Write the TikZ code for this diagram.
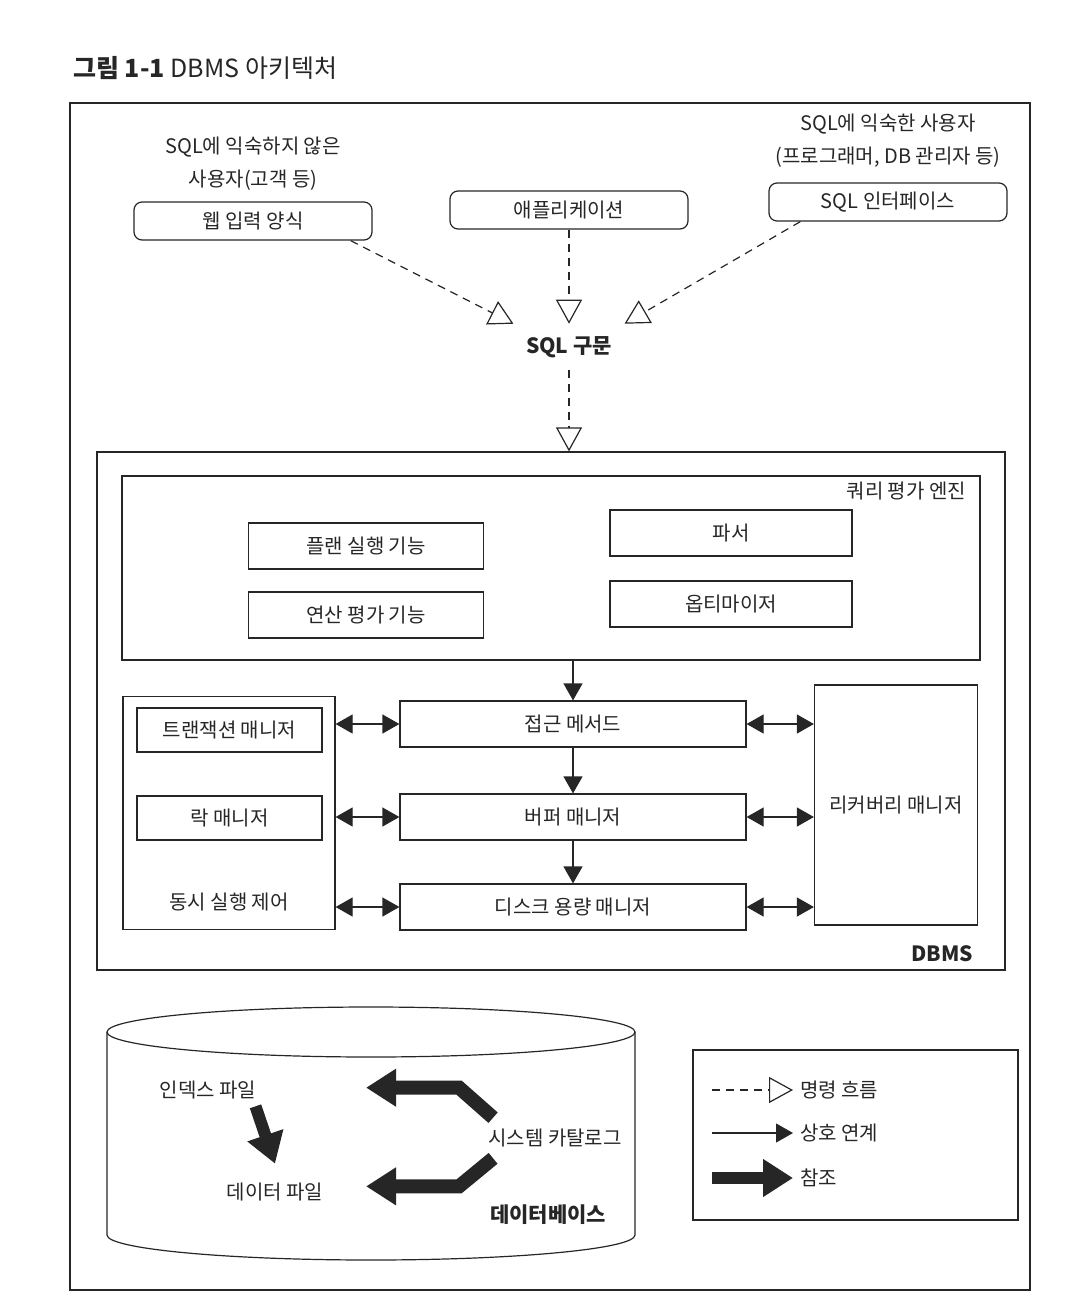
\documentclass[tikz,border=0pt]{standalone}
\usepackage{fontspec}
\setmainfont{Noto Sans CJK KR}
\usetikzlibrary{arrows.meta,positioning,calc}

\begin{document}
\begin{tikzpicture}[
    x=0.5pt, y=-0.5pt,
    line width=0.6pt, color=black!85,
    every node/.style={font=\fontsize{10}{16.5}\selectfont},
    box/.style={rectangle,draw,align=center,minimum height=23pt},
    ubox/.style={box,rounded corners=4pt,minimum width=119pt,minimum height=19pt},
    note/.style={align=center},
    flow/.style={dash pattern=on 4pt off 3pt,-{Triangle[open,length=12pt,width=13pt]}},
    link/.style={{Triangle[length=8.5pt,width=9.5pt]}-{Triangle[length=8.5pt,width=9.5pt]}},
    ref/.style={line width=7pt,-{Triangle[length=15pt,width=18pt]}},
    >={Triangle[length=8.5pt,width=9.5pt]}]
    \useasboundingbox (0,0) rectangle (1089,1307);
    \node[anchor=west,font=\fontsize{12.5}{15}\selectfont] (title) at (66,68) {\textbf{그림 1-1} DBMS 아키텍처};
    \draw[line width=0.8pt] (70,103) rectangle (1030,1290);
    % 사용자와 입력 경로
    \node[ubox] (web) at (253,221) {웹 입력 양식};
    \node[ubox] (app) at (569,210) {애플리케이션};
    \node[ubox] (sqli) at (888,202) {SQL 인터페이스};
    \node[note,above=2pt of web] (user1) {SQL에 익숙하지 않은\\사용자(고객 등)};
    \node[note,above=4pt of sqli] (user2) {SQL에 익숙한 사용자\\(프로그래머, DB 관리자 등)};
    \node[font=\fontsize{10.5}{13}\selectfont\bfseries,inner sep=6pt] (sql) at (569,347) {SQL 구문};
    \draw[flow] ($(web.south east)+(-22,0)$) -- (sql.north west);
    \draw[flow] (app) -- (sql);
    \draw[flow] ($(sqli.south west)+(32,0)$) -- (sql.north east);
    % DBMS
    \node[box,minimum width=454pt,minimum height=259pt] (dbms) at (551,711) {};
    \node[anchor=south east,inner sep=0pt,font=\fontsize{10.5}{13}\selectfont\bfseries] (dbmsl) at ($(dbms.south east)+(-32,-8)$) {DBMS};
    \draw[flow] (sql.south) -- (sql.south |- dbms.north);
    \node[box,minimum width=429pt,minimum height=92pt] (qe) at (551,568) {};
    \node[anchor=north east,inner sep=0pt] (qel) at ($(qe.north east)+(-14,6)$) {쿼리 평가 엔진};
    \node[box,minimum width=117.5pt] (plan) at (366,546) {플랜 실행 기능};
    \node[box,minimum width=117.5pt] (ops) at (366,615) {연산 평가 기능};
    \node[box,minimum width=121pt] (parser) at (731,533) {파서};
    \node[box,minimum width=121pt] (opt) at (731,604) {옵티마이저};
    \node[box,minimum width=173pt] (acc) at (573,724) {접근 메서드};
    \node[box,minimum width=173pt] (buf) at (573,817) {버퍼 매니저};
    \node[box,minimum width=173pt] (disk) at (573,907) {디스크 용량 매니저};
    \draw[->] (qe.south -| acc) -- (acc);
    \draw[->] (acc) -- (buf);
    \draw[->] (buf) -- (disk);
    \node[box,minimum width=106pt,minimum height=116.5pt] (cc) at (229,813) {};
    \node[box,minimum width=92.5pt,minimum height=22pt] (tm) at (229.5,730) {트랜잭션 매니저};
    \node[box,minimum width=92.5pt,minimum height=22pt] (lm) at (229.5,818) {락 매니저};
    \node[anchor=south] (ccl) at ($(cc.south)+(0,-12)$) {동시 실행 제어};
    \node[box,minimum width=81.5pt,minimum height=120pt] (rec) at (896,805) {리커버리 매니저};
    \draw[link] (cc.east |- acc) -- (acc.west);
    \draw[link] (cc.east |- buf) -- (buf.west);
    \draw[link] (cc.east |- disk) -- (disk.west);
    \draw[link] (acc.east) -- (rec.west |- acc);
    \draw[link] (buf.east) -- (rec.west |- buf);
    \draw[link] (disk.east) -- (rec.west |- disk);
    % 데이터베이스
    \draw (371,1032) ellipse [x radius=264, y radius=25];
    \draw (107,1032) -- (107,1235) arc [start angle=180, end angle=0, x radius=264, y radius=25] -- (635,1032);
    \node (idx) at (208,1090) {인덱스 파일};
    \node (dat) at (275,1192) {데이터 파일};
    \node (cat) at (555,1138) {시스템 카탈로그};
    \node[font=\fontsize{10.5}{13}\selectfont\bfseries] (dbl) at (548,1215) {데이터베이스};
    \draw[ref,line width=6pt] ($(idx.south east)+(-8,0)$) -- ($(dat.north)+(0,-12)$);
    \draw[ref] ($(cat.north west)+(12,-4)$) -- ++(-34,-30) -- ++(-93,0);
    \draw[ref] ($(cat.south west)+(12,4)$) -- ++(-34,28) -- ++(-93,0);
    % 범례
    \node[box,minimum width=162.5pt,minimum height=85pt] (leg) at (855.5,1135) {};
    \node[anchor=west] (lf) at (793,1090) {명령 흐름};
    \node[anchor=west] (ll) at (793,1133) {상호 연계};
    \node[anchor=west] (lr) at (793,1178) {참조};
    \coordinate (lfs) at (712,1090);
    \coordinate (lls) at (712,1133);
    \coordinate (lrs) at (712,1178);
    \draw[flow] (lfs) -- (lf.west);
    \draw[->] (lls) -- (ll.west);
    \draw[ref,line width=6pt] (lrs) -- (lr.west);
  \end{tikzpicture}
\end{document}
